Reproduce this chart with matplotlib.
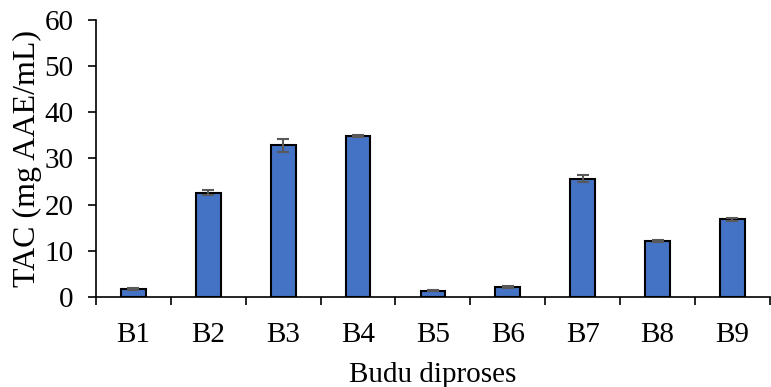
import numpy as np
import matplotlib
matplotlib.use("Agg")
import matplotlib.pyplot as plt

categories = ["B1", "B2", "B3", "B4", "B5", "B6", "B7", "B8", "B9"]
tac = [1.7, 22.6, 32.9, 34.8, 1.4, 2.2, 25.6, 12.1, 16.8]
err = [0.2, 0.6, 1.4, 0.2, 0.2, 0.2, 0.8, 0.2, 0.3]

plt.rcParams['font.family'] = ['Liberation Serif', 'DejaVu Serif']

fig = plt.figure(figsize=(7.71, 3.87), dpi=100)
ax = fig.add_axes([0.1245, 0.2326, 0.874, 0.7158])

x = np.arange(len(categories))
ax.bar(x, tac, width=0.33, color="#4472C4", edgecolor="black", linewidth=1.5,
       yerr=err, ecolor="#595959", capsize=4, error_kw={"elinewidth": 1.5, "capthick": 1.5})

ax.set_xlim(-0.5, len(categories) - 0.5)
ax.set_ylim(0, 60)
ax.set_yticks(np.arange(0, 61, 10))
ax.set_xticks(x)
ax.set_xticklabels(categories)
ax.set_xticks(np.arange(-0.5, len(categories), 1), minor=True)
ax.tick_params(axis="x", which="major", length=0, pad=18, labelsize=21)
ax.tick_params(axis="x", which="minor", length=6, width=1.2, direction="out")
ax.tick_params(axis="y", length=6, width=1.2, labelsize=21, pad=10)

for s in ["top", "right"]:
    ax.spines[s].set_visible(False)
for s in ["left", "bottom"]:
    ax.spines[s].set_linewidth(1.2)

ax.set_xlabel("Budu diproses", fontsize=21, labelpad=10)
ax.set_ylabel("TAC (mg AAE/mL)", fontsize=23, labelpad=2)

fig.savefig("out.png", dpi=100)
